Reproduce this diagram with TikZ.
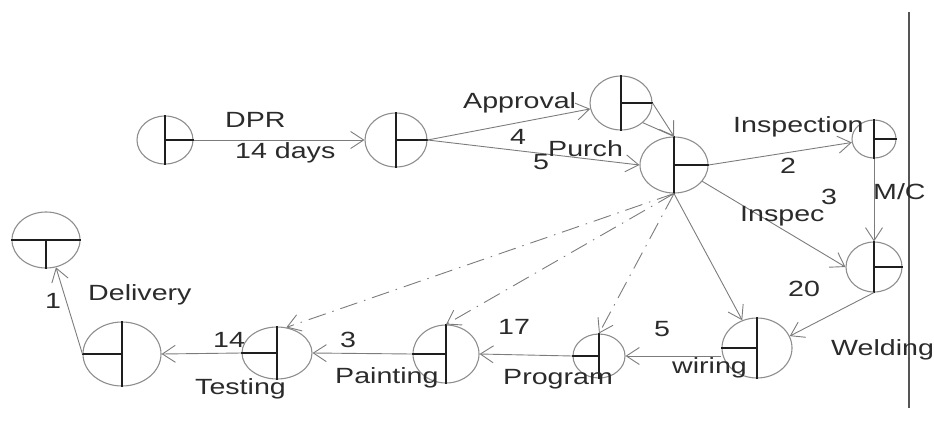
\documentclass[tikz,border=0pt]{standalone}
\usepackage{fontspec}
\setmainfont{Liberation Sans}[FakeStretch=1.3]
\usetikzlibrary{shapes.geometric,arrows.meta}

\definecolor{rim}{HTML}{8E8E8E}
\definecolor{bar}{HTML}{1E1E1E}
\definecolor{wire}{HTML}{7C7C7C}
\definecolor{ink}{HTML}{2B2B2B}
\definecolor{frameline}{HTML}{555555}

\begin{document}
\begin{tikzpicture}[x=1pt,y=-1pt,
  event/.style={ellipse, draw=rim, line width=1.1pt, inner sep=0pt, minimum width=#1},
  divider/.style={draw=bar, line width=1.3pt},
  act/.style={draw=wire, line width=0.9pt, -{Straight Barb[length=13pt,width=17pt]}},
  plain/.style={draw=wire, line width=0.9pt},
  dummy/.style={act, dash pattern=on 18pt off 7pt on 1.5pt off 7pt},
  lbl/.style={anchor=base west, inner sep=0pt, text=ink, font=\fontsize{22}{24}\selectfont}]

\useasboundingbox (0,0) rectangle (934,437);

% events
\node[event=56pt, minimum height=48pt] (n1)  at (165,140) {};
\node[event=62pt, minimum height=54pt] (n2)  at (396,140) {};
\node[event=62pt, minimum height=54pt] (n3)  at (621,103) {};
\node[event=68pt, minimum height=56pt] (n4)  at (674,165) {};
\node[event=44pt, minimum height=38pt] (n5)  at (874,139) {};
\node[event=56pt, minimum height=50pt] (n6)  at (874,267) {};
\node[event=70pt, minimum height=60pt] (n7)  at (757,348) {};
\node[event=52pt, minimum height=44pt] (n8)  at (599,356) {};
\node[event=66pt, minimum height=58pt] (n9)  at (446,354) {};
\node[event=70pt, minimum height=52pt] (n10) at (277,353) {};
\node[event=78pt, minimum height=64pt] (n11) at (122,354) {};
\node[event=68pt, minimum height=56pt] (n12) at (46,240) {};

% event dividers: right half on the upper chain, left half on the lower chain
\foreach \e in {n1,n2,n3,n4,n5,n6}{
  \draw[divider] (\e.north) -- (\e.south);
  \draw[divider] (\e.center) -- (\e.east);
}
\foreach \e in {n7,n8,n9,n10,n11}{
  \draw[divider] (\e.north) -- (\e.south);
  \draw[divider] (\e.west) -- (\e.center);
}
\draw[divider] (n12.west) -- (n12.east);
\draw[divider] (n12.center) -- (n12.south);

% activities
\draw[act] (n1.east) -- (n2.west);
\draw[act] (n2.east) -- (n3);
\draw[act] (n2.east) -- (n4.west);
\draw[act] (n3.east) -- (n4.north);
\draw[plain] (n3.-42) -- (n4.north);
\draw[act] (n4.east) -- (n5);
\draw[act] (n4.-30) -- (n6.west);
\draw[act] (n5.south) -- (n6.north);
\draw[act] (n4.south) -- (n7.118);
\draw[act] (n6.south) -- (n7.20);
\draw[act] (n8.east -| n7.west) -- (n8.east);
\draw[act] (n8.west) -- (n9.east);
\draw[act] (n9.west) -- (n10.east);
\draw[act] (n10.west) -- (n11.east);
\draw[act] (n11.west) -- (n12.-70);

% dummy activities
\draw[dummy] (n4.south) -- (n8.north);
\draw[dummy] (n4.south) -- (n9.north);
\draw[dummy] (n4.south) -- (n10.70);

% page edge rule
\draw[frameline, line width=1.4pt] (909,12) -- (909,408);

% labels
\node[lbl] (tDPR)  at (225,127) {DPR};
\node[lbl] (tDays) at (235,158) {14 days};
\node[lbl] (tAppr) at (463,108) {Approval};
\node[lbl] (tFour) at (510,144) {4};
\node[lbl] (tPur)  at (548,156) {Purch};
\node[lbl] (tFive) at (533,169) {5};
\node[lbl] (tInsp) at (733,132) {Inspection};
\node[lbl] (tTwo)  at (780,173) {2};
\node[lbl] (tMC)   at (873,199) {M/C};
\node[lbl] (tThr)  at (821,204) {3};
\node[lbl] (tIns)  at (740,221) {Inspec};
\node[lbl] (tTw)   at (788,296) {20};
\node[lbl] (tWeld) at (831,355) {Welding};
\node[lbl] (tFv)   at (654,336) {5};
\node[lbl] (tWir)  at (672,373) {wiring};
\node[lbl] (tProg) at (503,384) {Program};
\node[lbl] (tSev)  at (498,334) {17};
\node[lbl] (tPnt)  at (335,383) {Painting};
\node[lbl] (tTh)   at (340,347) {3};
\node[lbl] (tFt)   at (213,347) {14};
\node[lbl] (tTst)  at (195,394) {Testing};
\node[lbl] (tDel)  at (88,300) {Delivery};
\node[lbl] (tOne)  at (45,308) {1};
\end{tikzpicture}
\end{document}
